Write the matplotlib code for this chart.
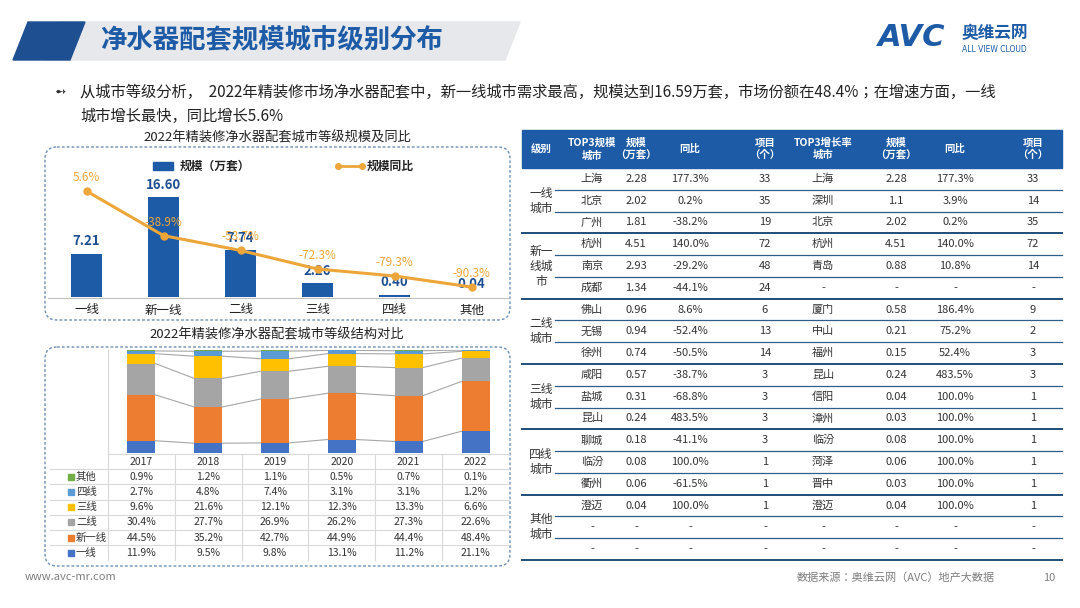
import matplotlib
matplotlib.use("Agg")
import matplotlib.pyplot as plt
from matplotlib import font_manager
from matplotlib.patches import Polygon, FancyBboxPatch, Rectangle

cjk = sorted({f.name for f in font_manager.fontManager.ttflist if "CJK" in f.name and "Sans" in f.name})
pref = [n for n in cjk if n.endswith("SC")] or cjk
plt.rcParams["font.family"] = (pref[:1] if pref else []) + ["DejaVu Sans"]
plt.rcParams["axes.unicode_minus"] = False

# ---- data -------------------------------------------------------------------
tiers = ["一线", "新一线", "二线", "三线", "四线", "其他"]
scale_2022 = [7.21, 16.60, 7.74, 2.26, 0.40, 0.04]
yoy_2022 = [5.6, -38.9, -53.7, -72.3, -79.3, -90.3]

years = ["2017", "2018", "2019", "2020", "2021", "2022"]
share_t1 = [11.9, 9.5, 9.8, 13.1, 11.2, 21.1]
share_new1 = [44.5, 35.2, 42.7, 44.9, 44.4, 48.4]
share_t2 = [30.4, 27.7, 26.9, 26.2, 27.3, 22.6]
share_t3 = [9.6, 21.6, 12.1, 12.3, 13.3, 6.6]
share_t4 = [2.7, 4.8, 7.4, 3.1, 3.1, 1.2]
share_other = [0.9, 1.2, 1.1, 0.5, 0.7, 0.1]

table_header = ["级别", "TOP3规模\n城市", "规模\n（万套）", "同比", "项目\n（个）",
                "TOP3增长率\n城市", "规模\n（万套）", "同比", "项目\n（个）"]
table_groups = ["一线\n城市", "新一\n线城\n市", "二线\n城市", "三线\n城市", "四线\n城市", "其他\n城市"]
table_rows = [
    ["上海", "2.28", "177.3%", "33", "上海", "2.28", "177.3%", "33"],
    ["北京", "2.02", "0.2%", "35", "深圳", "1.1", "3.9%", "14"],
    ["广州", "1.81", "-38.2%", "19", "北京", "2.02", "0.2%", "35"],
    ["杭州", "4.51", "140.0%", "72", "杭州", "4.51", "140.0%", "72"],
    ["南京", "2.93", "-29.2%", "48", "青岛", "0.88", "10.8%", "14"],
    ["成都", "1.34", "-44.1%", "24", "-", "-", "-", "-"],
    ["佛山", "0.96", "8.6%", "6", "厦门", "0.58", "186.4%", "9"],
    ["无锡", "0.94", "-52.4%", "13", "中山", "0.21", "75.2%", "2"],
    ["徐州", "0.74", "-50.5%", "14", "福州", "0.15", "52.4%", "3"],
    ["咸阳", "0.57", "-38.7%", "3", "昆山", "0.24", "483.5%", "3"],
    ["盐城", "0.31", "-68.8%", "3", "信阳", "0.04", "100.0%", "1"],
    ["昆山", "0.24", "483.5%", "3", "漳州", "0.03", "100.0%", "1"],
    ["聊城", "0.18", "-41.1%", "3", "临汾", "0.08", "100.0%", "1"],
    ["临汾", "0.08", "100.0%", "1", "菏泽", "0.06", "100.0%", "1"],
    ["衢州", "0.06", "-61.5%", "1", "晋中", "0.03", "100.0%", "1"],
    ["澄迈", "0.04", "100.0%", "1", "澄迈", "0.04", "100.0%", "1"],
    ["-", "-", "-", "-", "-", "-", "-", "-"],
    ["-", "-", "-", "-", "-", "-", "-", "-"],
]

BLUE = "#1d5ba6"
ORANGE = "#eda63a"
STACK_COLORS = ["#4472c4", "#ed7d31", "#a5a5a5", "#ffc000", "#5b9bd5", "#70ad47"]
W, H = 1080, 608

fig = plt.figure(figsize=(10.8, 6.08), dpi=100)
bg = fig.add_axes([0, 0, 1, 1])
bg.set_xlim(0, W)
bg.set_ylim(H, 0)
bg.axis("off")


def px_axes(x0, y0, x1, y1):
    """axes from pixel box (top-left origin)"""
    return fig.add_axes([x0 / W, 1 - y1 / H, (x1 - x0) / W, (y1 - y0) / H])


# ---- header -----------------------------------------------------------------
bg.add_patch(Polygon([[60, 22], [520, 22], [505, 60], [45, 60]], color="#e6e8ec", zorder=0))
bg.add_patch(Polygon([[28, 22], [85, 22], [70, 60], [13, 60]], color="#1d4f91", zorder=1))
bg.text(100, 41, "净水器配套规模城市级别分布", fontsize=19, color="#1d5ba6",
        fontweight="bold", va="center")
bg.text(878, 38, "AVC", fontsize=22, color="#1d5ba6", fontweight="bold",
        fontstyle="italic", va="center", fontfamily="DejaVu Sans")
bg.text(962, 33, "奥维云网", fontsize=12, color="#1d5ba6", fontweight="bold", va="center")
bg.text(962, 50, "ALL VIEW CLOUD", fontsize=5.5, color="#1d5ba6", va="center", fontfamily="DejaVu Sans")

bg.text(55, 92, "➻", fontsize=10, color="#333333", va="center", fontfamily="DejaVu Sans")
bg.text(80, 92, "从城市等级分析，  2022年精装修市场净水器配套中，新一线城市需求最高，规模达到16.59万套，市场份额在48.4%；在增速方面，一线",
        fontsize=11, color="#222222", va="center")
bg.text(80, 116, "城市增长最快，同比增长5.6%", fontsize=11, color="#222222", va="center")

# ---- dashed boxes -----------------------------------------------------------
for y0, y1 in [(147, 320), (347, 566)]:
    bg.add_patch(FancyBboxPatch((45, y0), 465, y1 - y0, boxstyle="round,pad=0,rounding_size=12",
                                fill=False, ec="#6f8fb5", ls=(0, (2, 1.5)), lw=1))
bg.text(277, 138, "2022年精装修净水器配套城市等级规模及同比", fontsize=9.5, ha="center", va="center", color="#222222")
bg.text(277, 335, "2022年精装修净水器配套城市等级结构对比", fontsize=9.5, ha="center", va="center", color="#222222")

# ---- top chart: bars + yoy line ---------------------------------------------
ax = px_axes(48, 150, 510, 297)
xs = range(len(tiers))
ax.bar(xs, scale_2022, width=0.4, color=BLUE)
ax.set_xlim(-0.5, 5.5)
ax.set_ylim(0, 16.6 * 147 / 100)
ax.axis("off")
for x, v in zip(xs, scale_2022):
    ax.text(x, v + 0.9, f"{v:.2f}", ha="center", va="bottom", fontsize=9.5,
            color="#1d4f91", fontweight="bold")
ax2 = ax.twinx()
ax2.plot(xs, yoy_2022, color=ORANGE, lw=2.2, marker="o", ms=5)
ax2.set_ylim(-100.3, 46.7)
ax2.axis("off")
for x, v in zip(xs, yoy_2022):
    ax2.text(x, v + 7, f"{v:.1f}%", ha="center", va="bottom", fontsize=8.5, color=ORANGE)
bg.plot([48, 510], [298, 298], color="#bfbfbf", lw=0.8)
for i, t in enumerate(tiers):
    bg.text(48 + 77 * (i + 0.5), 310, t, ha="center", va="center", fontsize=9, color="#222222")
bg.add_patch(Rectangle((153, 162), 20, 8, color=BLUE))
bg.text(180, 166, "规模（万套）", fontsize=8.5, va="center", fontweight="bold", color="#222222")
bg.plot([338, 362], [166, 166], color=ORANGE, lw=2, marker="o", ms=4)
bg.text(367, 166, "规模同比", fontsize=8.5, va="center", fontweight="bold", color="#222222")

# ---- bottom chart: stacked shares -------------------------------------------
series = [share_t1, share_new1, share_t2, share_t3, share_t4, share_other]
names = ["一线", "新一线", "二线", "三线", "四线", "其他"]
bx = px_axes(108, 350, 509, 453)
bottoms = [0.0] * len(years)
bw = 0.42
for vals, c in zip(series, STACK_COLORS):
    bx.bar(range(len(years)), vals, bottom=bottoms, width=bw, color=c, zorder=2)
    bottoms = [b + v for b, v in zip(bottoms, vals)]
    if c != STACK_COLORS[-1]:
        for i in range(len(years) - 1):
            bx.plot([i + bw / 2, i + 1 - bw / 2], [bottoms[i], bottoms[i + 1]],
                    color="#a6a6a6", lw=0.8, zorder=1)
bx.set_xlim(-0.5, 5.5)
bx.set_ylim(0, 100)
bx.axis("off")

# data table under the stacked bars
row_h = 15.2
ty0 = 454
bg.plot([108, 108], [350, ty0 + 7 * row_h], color="#d9d9d9", lw=0.8)
for i in range(7):
    bg.plot([108 if i == 0 else 50, 509], [ty0 + i * row_h] * 2, color="#d9d9d9", lw=0.8)
for j in range(1, 6):
    bg.plot([108 + j * 66.8] * 2, [ty0, ty0 + 7 * row_h], color="#d9d9d9", lw=0.8)
for j, y in enumerate(years):
    bg.text(108 + 66.8 * (j + 0.5), ty0 + row_h / 2, y, ha="center", va="center", fontsize=7.5, color="#333333")
for k, idx in enumerate(range(5, -1, -1)):
    yc = ty0 + row_h * (k + 1.5)
    bg.add_patch(Rectangle((68, yc - 3), 6, 6, color=STACK_COLORS[idx]))
    bg.text(76, yc, names[idx], va="center", fontsize=7.5, color="#333333")
    for j, v in enumerate(series[idx]):
        bg.text(108 + 66.8 * (j + 0.5), yc, f"{v:.1f}%", ha="center", va="center",
                fontsize=7.5, color="#333333")

# ---- right table -------------------------------------------------------------
tx0, tx1 = 522, 1062
hy0, hy1 = 130, 168
rh = (560 - hy1) / len(table_rows)
col_x = [541, 592, 636, 690, 765, 823, 896, 955, 1033]
bg.add_patch(Rectangle((tx0, hy0), tx1 - tx0, hy1 - hy0, color=BLUE))
for x, h in zip(col_x, table_header):
    bg.text(x, (hy0 + hy1) / 2, h, ha="center", va="center", fontsize=7.5, color="white",
            fontweight="bold", linespacing=1.3)
for r, row in enumerate(table_rows):
    yc = hy1 + rh * (r + 0.5)
    for x, v in zip(col_x[1:], row):
        bg.text(x, yc, v, ha="center", va="center", fontsize=8, color="#333333")
    yl = hy1 + rh * (r + 1)
    if (r + 1) % 3 == 0:
        bg.plot([tx0, tx1], [yl, yl], color="#1f4e79", lw=1.4)
    else:
        bg.plot([555, tx1], [yl, yl], color="#2e5f8a", lw=0.9)
for g, lab in enumerate(table_groups):
    yc = hy1 + rh * (3 * g + 1.5)
    bg.text(541, yc, lab, ha="center", va="center", fontsize=8.5, color="#333333", linespacing=1.2)

# ---- footer -------------------------------------------------------------------
bg.text(25, 577, "www.avc-mr.com", fontsize=8, color="#7f7f7f", va="center")
bg.text(797, 578, "数据来源：奥维云网（AVC）地产大数据", fontsize=8, color="#7f7f7f", va="center")
bg.text(1043, 578, "10", fontsize=8, color="#7f7f7f", va="center")

fig.savefig("out.png", dpi=100)
